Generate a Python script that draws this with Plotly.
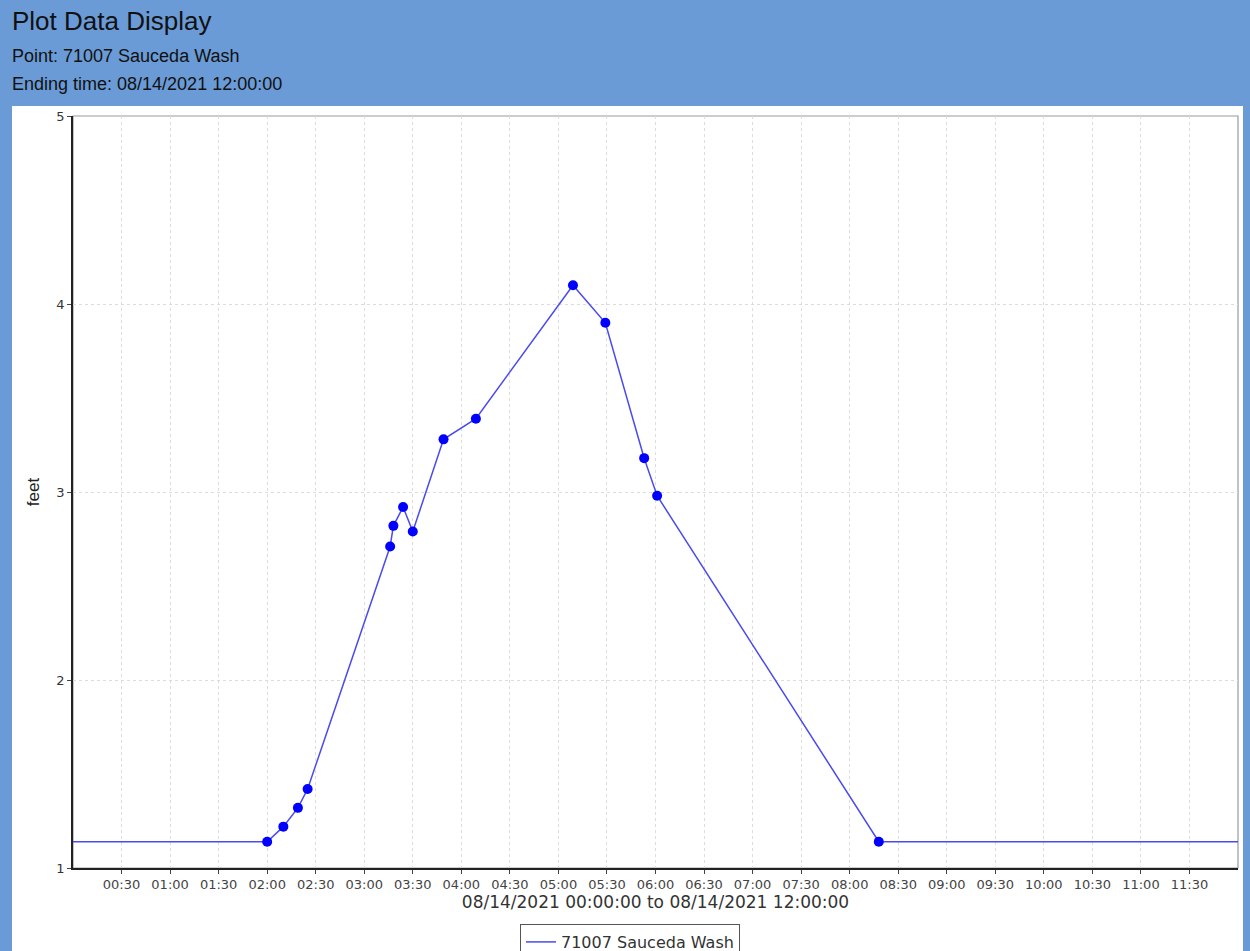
import plotly.graph_objects as go

# ---------------- data ----------------
DAY = "2021-08-14"
obs_times = ["02:00", "02:10", "02:19", "02:25", "03:16", "03:18", "03:24",
             "03:30", "03:49", "04:09", "05:09", "05:29", "05:53", "06:01", "08:18"]
obs_feet = [1.14, 1.22, 1.32, 1.42, 2.71, 2.82, 2.92,
            2.79, 3.28, 3.39, 4.10, 3.90, 3.18, 2.98, 1.14]
edge_times = ["00:00", "12:00"]          # line carried flat to the window edges
edge_feet = [1.14, 1.14]
tick_labels = ["00:30", "01:00", "01:30", "02:00", "02:30", "03:00", "03:30",
               "04:00", "04:30", "05:00", "05:30", "06:00", "06:30", "07:00",
               "07:30", "08:00", "08:30", "09:00", "09:30", "10:00", "10:30",
               "11:00", "11:30"]
series_name = "71007 Sauceda Wash"
title_text = "Plot Data Display"
point_text = "Point: 71007 Sauceda Wash"
ending_text = "Ending time: 08/14/2021 12:00:00"
x_title = "08/14/2021 00:00:00 to 08/14/2021 12:00:00"
y_title = "feet"

def ts(t):
    return f"{DAY} {t}:00"

line_x = [ts(edge_times[0])] + [ts(t) for t in obs_times] + [ts(edge_times[1])]
line_y = [edge_feet[0]] + obs_feet + [edge_feet[1]]

# ---------------- layout geometry ----------------
W, H = 1250, 951
L, R, T, B = 73, 1238, 116, 868

def xp(px):
    return (px - L) / (R - L)

def yp(py):
    return (B - py) / (B - T)

BLUE = "#6a9bd6"

fig = go.Figure()
fig.add_trace(go.Scatter(
    x=line_x, y=line_y, mode="lines", name=series_name,
    line=dict(color="#4a4af0", width=1.5), showlegend=True, hoverinfo="skip"))
fig.add_trace(go.Scatter(
    x=[ts(t) for t in obs_times], y=obs_feet, mode="markers", name=series_name,
    marker=dict(color="#0000ff", size=10), showlegend=False))

fig.update_layout(
    width=W, height=H,
    margin=dict(l=L, r=W - R, t=T, b=H - B, autoexpand=False),
    paper_bgcolor=BLUE,
    plot_bgcolor="rgba(0,0,0,0)",
    font=dict(family="DejaVu Sans", color="#333333"),
    showlegend=True,
    legend=dict(
        orientation="h", xref="container", yref="container",
        x=0.504, xanchor="center", y=1 - 924 / H, yanchor="top",
        bgcolor="white", bordercolor="#555555", borderwidth=1,
        font=dict(family="DejaVu Sans", size=16, color="#333333"),
        itemwidth=30,
    ),
    shapes=[
        dict(type="rect", xref="paper", yref="paper",
             x0=xp(12), x1=xp(1243), y0=yp(H + 5), y1=yp(106),
             fillcolor="white", line=dict(width=0), layer="below"),
        dict(type="rect", xref="paper", yref="paper",
             x0=0, x1=1, y0=0, y1=1,
             fillcolor="rgba(0,0,0,0)", line=dict(color="#9a9a9a", width=1.2),
             layer="below"),
    ],
    annotations=[
        dict(text=title_text, xref="paper", yref="paper", x=xp(10), y=yp(21),
             xanchor="left", yanchor="middle", showarrow=False,
             font=dict(family="Liberation Sans", size=26, color="#111111")),
        dict(text=point_text, xref="paper", yref="paper", x=xp(10), y=yp(56),
             xanchor="left", yanchor="middle", showarrow=False,
             font=dict(family="Liberation Sans", size=18, color="#111111")),
        dict(text=ending_text, xref="paper", yref="paper", x=xp(10), y=yp(84),
             xanchor="left", yanchor="middle", showarrow=False,
             font=dict(family="Liberation Sans", size=18, color="#111111")),
    ],
)

fig.update_xaxes(
    type="date",
    range=[ts(edge_times[0]), ts(edge_times[1])],
    tickvals=[ts(t) for t in tick_labels], ticktext=tick_labels,
    showgrid=True, gridcolor="#dcdcdc", griddash="dot", gridwidth=1,
    showline=True, linecolor="#222222", linewidth=1.5,
    ticks="outside", ticklen=4, tickcolor="#444444",
    tickfont=dict(family="DejaVu Sans", size=13, color="#444444"),
    title=dict(text=x_title, standoff=4,
               font=dict(family="DejaVu Sans", size=17, color="#333333")),
    zeroline=False, automargin=False,
)
fig.update_yaxes(
    range=[1, 5], dtick=1, tick0=1,
    showgrid=True, gridcolor="#dcdcdc", griddash="dot", gridwidth=1,
    showline=True, linecolor="#222222", linewidth=1.5,
    ticks="outside", ticklen=4, tickcolor="#444444",
    tickfont=dict(family="DejaVu Sans", size=13, color="#333333"),
    title=dict(text=y_title, standoff=12,
               font=dict(family="Liberation Sans", size=17, color="#222222")),
    zeroline=False, automargin=False,
)

fig.write_html(
    "out.html",
    config={"displayModeBar": False},
    post_script="document.body.style.margin='0px';document.body.style.overflow='hidden';",
)
